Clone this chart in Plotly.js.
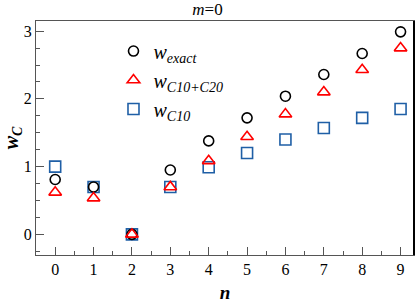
<!DOCTYPE html>
<html><head><meta charset="utf-8">
<script src="https://cdn.plot.ly/plotly-3.0.1.min.js"></script>
<style>html,body{margin:0;padding:0;background:#fff}#plot{width:415px;height:304px}</style>
</head><body><div id="plot"></div>
<script>
var n = [0,1,2,3,4,5,6,7,8,9];
var wExact = [0.81,0.70,0.00,0.95,1.38,1.72,2.04,2.36,2.67,2.99];
var wC10C20 = [0.62,0.535,0.00,0.70,1.085,1.44,1.775,2.10,2.43,2.75];
var wC10 = [1.00,0.70,0.00,0.70,0.99,1.20,1.40,1.57,1.72,1.85];
var xTicks = [0,1,2,3,4,5,6,7,8,9];
var yTicks = [0,1,2,3];

var F = "Liberation Serif, DejaVu Serif, serif";
var traces = [
  {x:n, y:wC10, mode:'markers', type:'scatter', name:'<i>w<sub>C10</sub></i>', legendrank:3,
   marker:{symbol:'square-open', size:11, color:'#1f5fa6', line:{width:1.6}}},
  {x:n, y:wExact, mode:'markers', type:'scatter', name:'<i>w<sub>exact</sub></i>', legendrank:1,
   marker:{symbol:'circle-open', size:10, color:'#000', line:{width:1.6}}},
  {x:n, y:wC10C20, mode:'markers', type:'scatter', name:'<i>w<sub>C10+C20</sub></i>', legendrank:2,
   marker:{symbol:'triangle-up-open', size:11, color:'#ff0000', line:{width:1.6}}}
];
var layout = {
  width:415, height:304,
  margin:{l:36, r:1, t:21, b:49},
  paper_bgcolor:'#fff', plot_bgcolor:'#fff',
  font:{family:F, size:16, color:'#000'},
  title:{text:'<i>m</i>=0', x:0.5, xanchor:'center', y:0.99, yanchor:'top', font:{family:F, size:17}},
  showlegend:true,
  legend:{x:0.205, y:0.955, xanchor:'left', yanchor:'top', bgcolor:'rgba(0,0,0,0)',
    font:{family:F, size:20}, tracegroupgap:5, itemwidth:30},
  shapes:[{type:'line', xref:'paper', yref:'paper', x0:1, x1:1, y0:0, y1:1, line:{color:'#000', width:2}}],
  xaxis:{range:[-0.5,9.35], tickvals:xTicks, ticks:'inside', ticklen:8, tickcolor:'#555', tickwidth:1,
    minor:{dtick:0.5, ticks:'inside', ticklen:4, tickcolor:'#555'},
    showgrid:false, zeroline:false, showline:true, linecolor:'#555', mirror:true,
    tickfont:{family:F, size:16}, title:{text:'<b><i>n</i></b>', font:{family:F, size:19}, standoff:8}},
  yaxis:{range:[-0.305,3.15], tickvals:yTicks, ticks:'inside', ticklen:8, tickcolor:'#555', tickwidth:1,
    minor:{dtick:0.25, ticks:'inside', ticklen:4, tickcolor:'#555'},
    showgrid:false, zeroline:false, showline:true, linecolor:'#555', mirror:true,
    tickfont:{family:F, size:16}, title:{text:'<b><i>w<sub>C</sub></i></b>', font:{family:F, size:20}, standoff:4}}
};
Plotly.newPlot('plot', traces, layout, {displayModeBar:false, staticPlot:true});
</script></body></html>
